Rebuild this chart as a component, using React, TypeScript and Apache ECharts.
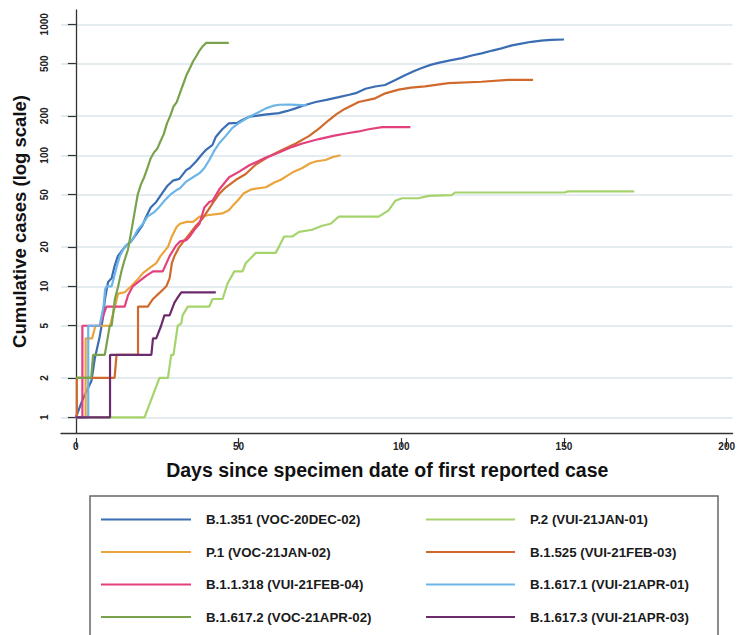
import React, { useEffect, useRef } from "react";
import * as echarts from "echarts";

type Pt = [number, number];

// Series names (legend order, two columns, row-major)
const legendCol1 = ["B.1.351 (VOC-20DEC-02)", "P.1 (VOC-21JAN-02)", "B.1.1.318 (VUI-21FEB-04)", "B.1.617.2 (VOC-21APR-02)"];
const legendCol2 = ["P.2 (VUI-21JAN-01)", "B.1.525 (VUI-21FEB-03)", "B.1.617.1 (VUI-21APR-01)", "B.1.617.3 (VUI-21APR-03)"];

// [days since first case, cumulative cases]
const b1351: Pt[] = [[0,1],[2,1.35],[4.8,1.9],[5.8,2.8],[7.3,4.1],[8.4,5.9],[8.9,7.9],[9.9,10.8],[11,11.5],[11.8,14],[12.9,17],[14,18.5],[15.5,20.5],[17,22],[18.6,25],[20.4,29],[21.6,34],[23,40],[24.7,44],[26.7,52],[28,58],[29.8,64],[31.8,66],[33.9,77],[35,80],[37,90],[38.5,100],[40,110],[42,120],[43,138],[44,148],[45,158],[47,175],[49.7,177],[51,185],[53.3,197],[55.3,200],[58,204],[62.4,210],[65,218],[67.5,228],[70,240],[73.7,255],[77,265],[80.8,278],[84,290],[86,298],[89,322],[92,335],[95,344],[98.2,376],[101.3,410],[104,440],[106.3,464],[109,490],[111.4,507],[115,530],[118.6,552],[122,580],[124.7,600],[128,630],[130.8,655],[134,690],[136.9,712],[140,735],[143,750],[146,760],[150,765]];
const p2: Pt[] = [[0,1],[21.1,1],[25.7,2],[28.3,2],[29.3,3],[30,3],[31.3,5],[32.4,5.2],[32.8,6],[34.4,7],[41,7],[42,8],[45.1,8],[46.6,10.5],[48.7,13],[51.2,13],[52.2,15],[55.3,18],[61.4,18],[62.4,20],[64,24],[66.5,24],[68.6,26],[72.6,27],[75.7,29],[78.3,30],[80.8,34],[93.1,34],[96.1,38],[98.2,45],[100.2,47],[105.3,47],[108.4,49],[115.5,49.6],[116.5,52],[150.2,52],[151.2,53],[171.6,53]];
const p1: Pt[] = [[0,1],[3,1],[3,4],[5,4],[6,5],[10.5,5],[12,7],[13,8.8],[15,9],[17,10],[18.6,11],[20.6,12.6],[23,14],[24.7,15],[26,17],[28.3,20],[29.5,24],[31,28.5],[32,30],[34,31],[36,31],[38,34],[41,35],[45,36],[47,38],[48.5,42],[50,46],[51.5,51],[54,55],[58.4,57],[61,62],[63,65],[65,70],[67,75],[69.6,80],[72,87],[74,90],[76.7,92],[79,97],[81.3,100]];
const b1525: Pt[] = [[0,1],[0.3,1],[0.3,2],[11.9,2],[12.5,3],[19.1,3],[19.1,7],[22.1,7],[23.7,8],[25.7,8.9],[27.8,10],[28.8,11.5],[29.5,15],[30.3,17],[31.8,20],[33.4,22.5],[34.9,25],[36.9,29],[38,31],[39,33],[40,36],[42,43],[44.1,51],[46.1,57],[49.2,65],[52.2,72],[55.3,85],[59.4,98],[63.5,110],[67.6,123],[71.6,140],[74.7,160],[77.7,185],[80,205],[82.5,225],[86.9,255],[92,272],[95.1,297],[99.2,317],[103,328],[107.3,336],[114.5,355],[124.7,364],[132.8,376],[140.5,376]];
const b11318: Pt[] = [[0,1],[2,1],[2,5],[7.3,5],[9.4,7],[15,7],[16,8.5],[17.5,10],[19.6,11],[21.6,12],[23.7,13],[26.7,13],[28.8,17],[30.8,20.5],[32,22],[33.9,22.5],[35,24],[36.4,27],[38,30],[39.5,40],[41,44],[42,45],[44.1,55],[47.1,68],[50.2,75],[53.3,84],[56,90],[58.4,96],[62.4,105],[66.5,116],[69.6,123],[74.7,133],[79.8,142],[83.9,148],[86.9,152],[90,158],[94.1,164],[102.8,164]];
const b16171: Pt[] = [[0,1],[3.8,1],[3.8,5],[7.3,5],[8.5,7],[9,9.5],[9.4,10],[11,10],[12.5,14],[13.5,17],[15,20],[16.5,21.5],[17.5,23],[19,27],[20.6,30],[22,34],[24.2,37],[25.5,40],[27.2,45],[29,50],[30.8,54],[32,56],[33.9,63],[36,68],[38,73],[39.5,80],[41,92],[42.5,108],[44,123],[46,140],[48.1,162],[50,175],[51.5,185],[53.3,197],[56,212],[58.4,228],[60.5,238],[62.4,243],[66,244],[71,240]];
const b16172: Pt[] = [[0,2],[4.7,2],[5.3,3],[8.9,3],[10.4,5],[11,5],[12,8],[13,10],[14,13],[15,16],[16,19],[17,26],[18,36],[19,50],[20,60],[21,68],[22,80],[23,95],[24,105],[25,112],[26,128],[27,145],[28,175],[29,200],[30,235],[31,255],[32,300],[33,350],[34,410],[35,460],[36,520],[37,570],[38,630],[39,680],[40,720],[47,720]];
const b16173: Pt[] = [[0,1],[10.5,1],[10.5,3],[23.2,3],[23.7,4],[24.7,4],[26.2,5],[27.2,6],[28.8,6],[30.3,7.5],[31,8],[32.4,9],[43,9]];

const seriesData: Record<string, Pt[]> = {
  "B.1.351 (VOC-20DEC-02)": b1351,
  "P.2 (VUI-21JAN-01)": p2,
  "P.1 (VOC-21JAN-02)": p1,
  "B.1.525 (VUI-21FEB-03)": b1525,
  "B.1.1.318 (VUI-21FEB-04)": b11318,
  "B.1.617.1 (VUI-21APR-01)": b16171,
  "B.1.617.2 (VOC-21APR-02)": b16172,
  "B.1.617.3 (VUI-21APR-03)": b16173,
};
const seriesColors: Record<string, string> = {
  "B.1.351 (VOC-20DEC-02)": "#3b6db3",
  "P.2 (VUI-21JAN-01)": "#a5d46c",
  "P.1 (VOC-21JAN-02)": "#eaa43b",
  "B.1.525 (VUI-21FEB-03)": "#d1692c",
  "B.1.1.318 (VUI-21FEB-04)": "#e5407e",
  "B.1.617.1 (VUI-21APR-01)": "#6cb5e6",
  "B.1.617.2 (VOC-21APR-02)": "#7aa24d",
  "B.1.617.3 (VUI-21APR-03)": "#6b2b6c",
};

const yTickValues = [1, 2, 5, 10, 20, 50, 100, 200, 500, 1000];
const xTickValues = [0, 50, 100, 150, 200];
const xTitle = "Days since specimen date of first reported case";
const yTitle = "Cumulative cases (log scale)";

const FONT = "'Liberation Sans', Arial, sans-serif";

export default function App() {
  const ref = useRef<HTMLDivElement>(null);
  useEffect(() => {
    if (!ref.current) return;
    const chart = echarts.init(ref.current, null, { renderer: "svg" });
    const xMin = -4.57, xMax = 201.8;
    const legendText = { fontSize: 13.3, fontWeight: "bold", color: "#1a1a1a", fontFamily: FONT, padding: [0, 0, 0, 10] };
    const plain = (v: number) => String(Math.round(v));
    chart.setOption({
      animation: false,
      backgroundColor: "#ffffff",
      textStyle: { fontFamily: FONT },
      grid: { left: 61, right: 0, top: 10, bottom: 202, containLabel: false },
      xAxis: [
        {
          type: "value", min: xMin, max: xMax, offset: 5,
          axisLine: { show: false },
          axisTick: { show: true, length: 9, customValues: xTickValues, lineStyle: { color: "#333", width: 1.2 } },
          axisLabel: { customValues: xTickValues, margin: 3, fontSize: 10, fontWeight: "bold", color: "#222", fontFamily: FONT, formatter: plain },
          splitLine: { show: false },
          name: xTitle, nameLocation: "middle", nameGap: 22,
          nameTextStyle: { fontSize: 19.5, fontWeight: "bold", color: "#111", fontFamily: FONT, padding: [0, 19, 0, 0] },
        },
        {
          type: "value", min: xMin, max: xMax, position: "bottom",
          axisLine: { show: true, lineStyle: { color: "#333", width: 1.3 } },
          axisTick: { show: false }, axisLabel: { show: false }, splitLine: { show: false },
        },
      ],
      yAxis: {
        type: "log", logBase: 10, min: 0.759, max: 1285,
        name: yTitle, nameLocation: "middle", nameGap: 32, nameRotate: 90,
        nameTextStyle: { fontSize: 18.5, fontWeight: "bold", color: "#111", fontFamily: FONT },
        axisLine: { show: true, lineStyle: { color: "#333", width: 1.3 } },
        axisTick: { show: true, length: 8, customValues: yTickValues, lineStyle: { color: "#333", width: 1.2 } },
        axisLabel: { customValues: yTickValues, rotate: 90, margin: 12, fontSize: 10, fontWeight: "bold", color: "#222", fontFamily: FONT, formatter: plain },
        splitLine: { show: true, lineStyle: { color: "#e4ecf0", width: 2 } },
        minorTick: { show: false }, minorSplitLine: { show: false },
      },
      legend: [
        { orient: "vertical", left: 95, top: 508, itemWidth: 90, itemHeight: 16, itemGap: 19.5, data: legendCol1, textStyle: legendText, itemStyle: { opacity: 0 }, selectedMode: false },
        { orient: "vertical", left: 420, top: 508, itemWidth: 89, itemHeight: 16, itemGap: 19.5, data: legendCol2, textStyle: legendText, itemStyle: { opacity: 0 }, selectedMode: false },
      ],
      graphic: [
        { type: "rect", shape: { x: 90, y: 496, width: 628, height: 160 }, style: { fill: "none", stroke: "#666", lineWidth: 1.5 }, z: -1 },
      ],
      series: Object.keys(seriesData).map((name) => ({
        name, type: "line", data: seriesData[name], xAxisIndex: 0, yAxisIndex: 0,
        symbol: "none", showSymbol: false, smooth: false, clip: true,
        lineStyle: { color: seriesColors[name], width: 2.2 },
        itemStyle: { color: seriesColors[name] },
      })),
    });
    return () => chart.dispose();
  }, []);
  return <div ref={ref} style={{ position: "absolute", left: 0, top: 0, width: 738, height: 635 }} />;
}
